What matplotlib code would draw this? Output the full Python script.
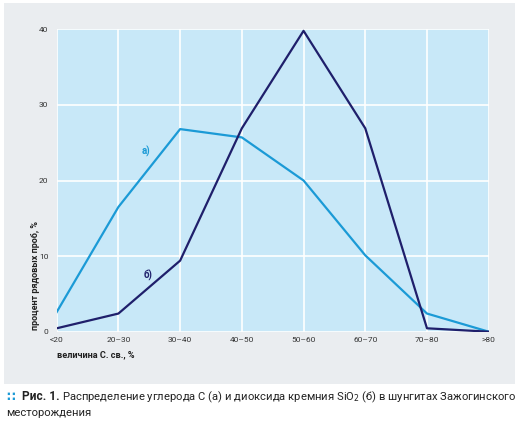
import numpy as np
import matplotlib
matplotlib.use("Agg")
import matplotlib.pyplot as plt
from matplotlib.patches import Rectangle
from matplotlib import font_manager

# fraction classes (x axis)
categories = ["<20", "20\u201330", "30\u201340", "40\u201350", "50\u201360", "60\u201370", "70\u201380", ">80"]
# а) carbon, б) SiO2 -- percent of samples
carbon = [2.6, 16.5, 26.8, 25.7, 20.0, 10.1, 2.4, 0.0]
silica = [0.45, 2.4, 9.4, 26.9, 39.8, 26.9, 0.45, 0.0]
yticks = [0, 10, 20, 30, 40]

names = {f.name for f in font_manager.fontManager.ttflist}
if "Liberation Sans Narrow" in names:
    narrow = ["Liberation Sans Narrow", "DejaVu Sans"]
else:
    narrow = ["Roboto", "DejaVu Sans"]
plain = ["Roboto", "DejaVu Sans"]

fig = plt.figure(figsize=(5.18, 4.21), dpi=100)
fig.patch.set_facecolor("white")
bg = Rectangle((4 / 518, 1 - 384 / 421), 511 / 518, 381 / 421,
               transform=fig.transFigure, facecolor="#eaedf0",
               edgecolor="none", zorder=-10)
fig.patches.append(bg)

ax = fig.add_axes([56.7 / 518, 1 - 331.7 / 421, 432 / 518, 302.4 / 421])
ax.set_facecolor("#c8e8f8")
x = np.arange(len(categories))
ax.plot(x, carbon, color="#1b9ad6", lw=1.6, zorder=3)
ax.plot(x, silica, color="#1f1f6b", lw=1.6, zorder=4)

ax.set_xlim(0, len(categories) - 1)
ax.set_ylim(0, 40)
ax.set_xticks(x)
ax.set_xticklabels(categories)
ax.set_yticks(yticks)
ax.grid(True, color="white", lw=1.2)
ax.set_axisbelow(True)
for s in ax.spines.values():
    s.set_visible(False)
ax.tick_params(length=0, labelsize=6, colors="#333333", pad=4)
ax.tick_params(axis="y", pad=6)
for t in ax.get_xticklabels() + ax.get_yticklabels():
    t.set_family(narrow)

ax.text(1.45, 23.8, "а)", color="#1b9ad6", fontsize=7, fontweight="bold",
        family=narrow, ha="center", va="center")
ax.text(1.48, 7.5, "б)", color="#1f1f6b", fontsize=7, fontweight="bold",
        family=narrow, ha="center", va="center")

fig.text(35 / 518, 1 - 276 / 421, "процент рядовых проб, %", rotation=90,
         fontsize=6.5, fontweight="bold", family=narrow, color="#222222",
         ha="center", va="center")
fig.text(57 / 518, 1 - 355 / 421, "величина С. св., %", fontsize=6.6,
         fontweight="bold", family=narrow, color="#222222", ha="left", va="center")

fig.text(6 / 518, 1 - 397 / 421, "\u2237", fontsize=9, color="#1b9ad6",
         fontweight="bold", family=["DejaVu Sans"], ha="left", va="center")
fig.text(22 / 518, 1 - 397 / 421, "Рис. 1.", fontsize=8.6, fontweight="bold",
         family=plain, color="#222222", ha="left", va="center")
cap = fig.text(62 / 518, 1 - 397 / 421,
               "Распределение углерода С (а) и диоксида кремния SiO$_2$ (б) в шунгитах Зажогинского",
               fontsize=8.6, family=plain, color="#222222", ha="left", va="center")
cap2 = fig.text(6 / 518, 1 - 413 / 421, "месторождения", fontsize=8.6, family=plain,
                color="#222222", ha="left", va="center")

# shrink the long caption line so it ends near the right edge like the original
r = fig.canvas.get_renderer()
w = cap.get_window_extent(r).width
if w > 452:
    cap.set_fontsize(8.6 * 452 / w)
    cap2.set_fontsize(8.6 * 452 / w)

fig.savefig("out.png", dpi=100, facecolor="white")
